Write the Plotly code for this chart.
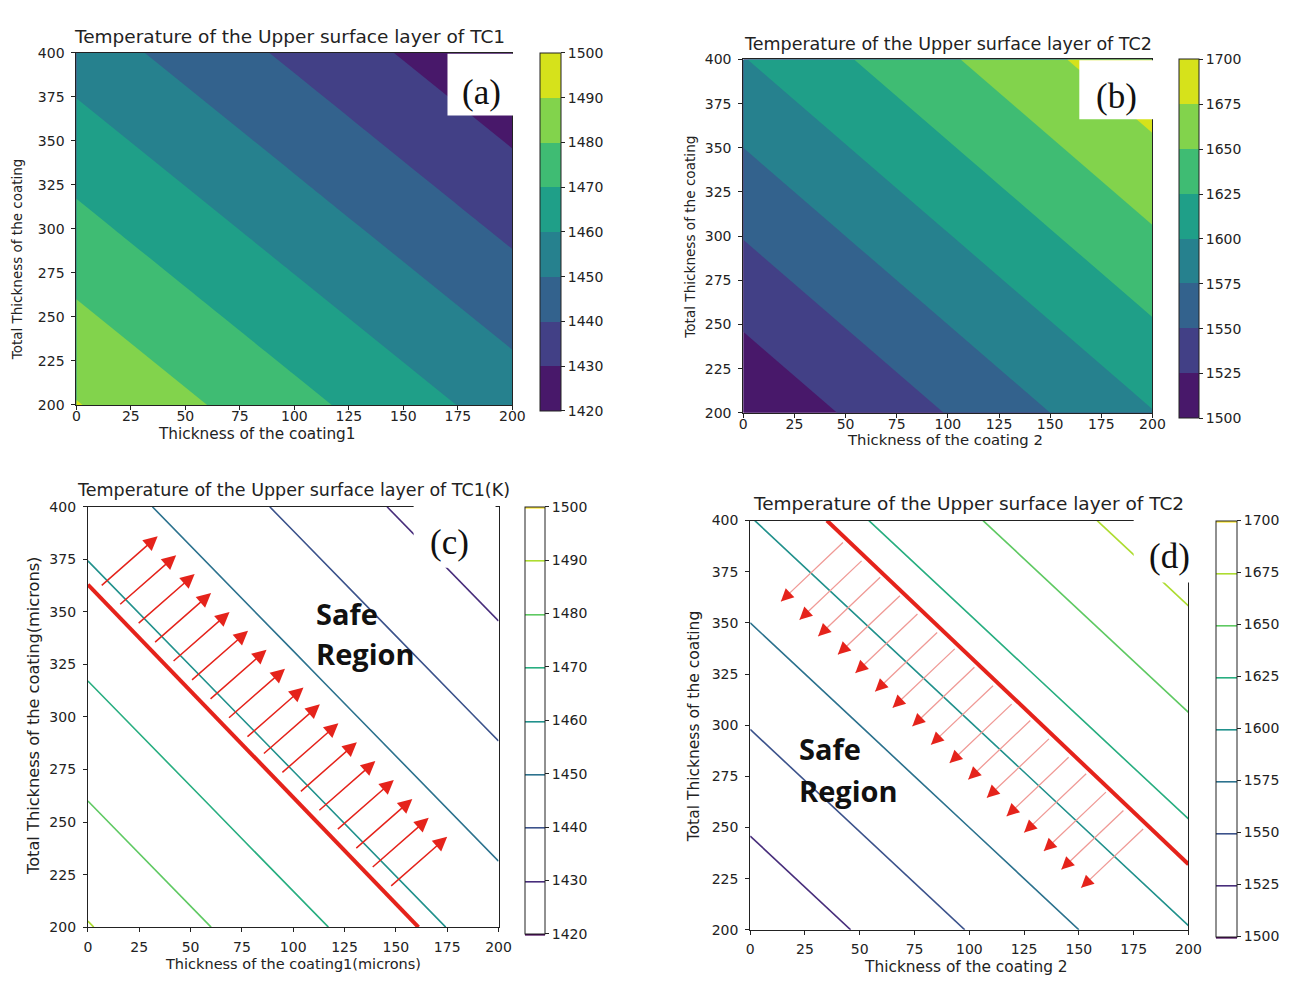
import plotly.graph_objects as go

W, H = 1314, 988

# ---------------- data ----------------
grid_x = [0, 100, 200]
grid_y = [200, 300, 400]
temp_tc1 = [
    [1490.5, 1473.0, 1455.5],
    [1473.0, 1455.5, 1438.0],
    [1455.5, 1438.0, 1420.5],
]
temp_tc2 = [
    [1503.0, 1551.0, 1599.0],
    [1551.0, 1599.0, 1647.0],
    [1599.0, 1647.0, 1695.0],
]
levels_tc1 = [1420, 1430, 1440, 1450, 1460, 1470, 1480, 1490, 1500]
levels_tc2 = [1500, 1525, 1550, 1575, 1600, 1625, 1650, 1675, 1700]
x_ticks = [0, 25, 50, 75, 100, 125, 150, 175, 200]
y_ticks = [200, 225, 250, 275, 300, 325, 350, 375, 400]

safe_line_c_x = [0, 161]
safe_line_c_y = [363, 200]
safe_line_d_x = [35, 200]
safe_line_d_y = [400, 232]

arrow_c_tail_x = [6, 15, 24, 32, 41, 50, 59, 68, 77, 85, 94, 103, 112, 121, 130, 138, 147]
arrow_c_tail_y = [362, 353, 344, 335, 326, 317, 308, 299, 290, 282, 273, 264, 255, 246, 237, 228, 219]
arrow_c_head_x = [34, 43, 52, 60, 69, 78, 87, 96, 105, 113, 122, 131, 140, 149, 158, 166, 175]
arrow_c_head_y = [386, 377, 368, 359, 350, 341, 332, 323, 314, 306, 297, 288, 279, 270, 261, 252, 243]

arrow_d_tail_x = [43, 51.5, 60, 69, 77, 86, 94, 103, 111.5, 120, 128.5, 137, 146, 154, 163, 171, 180]
arrow_d_tail_y = [390, 381, 373, 364, 355, 346, 338, 329, 320, 311, 303, 294, 285, 277, 268, 259, 250]
arrow_d_head_x = [14, 22.5, 31, 40, 48, 57, 65, 74, 82.5, 91, 99.5, 108, 117, 125, 134, 142, 151]
arrow_d_head_y = [360.5, 351.5, 343.5, 334.5, 325.5, 316.5, 308.5, 299.5, 290.5, 281.5, 273.5, 264.5, 255.5, 247.5, 238.5, 229.5, 220.5]

# ---------------- styles ----------------
viridis_levels = ['#440154', '#472d7b', '#3b528b', '#2c728e', '#21918c',
                  '#28ae80', '#5ec962', '#addc30', '#fde725']
viridis_bands = ['#48186a', '#424086', '#33628d', '#26818e', '#1f9f88',
                 '#3fbc73', '#82d34c', '#d6e21b']

n_lv = len(levels_tc1)
# colours used by the filled contours (plotly samples band k at (k+1)/n_levels)
fill_scale = [[0.0, viridis_bands[0]]]
for k, c in enumerate(viridis_bands):
    fill_scale.append([(k + 1) / n_lv, c])
fill_scale.append([1.0, viridis_bands[-1]])
# stepwise scale for the separate colour bars of the filled panels
nb = len(viridis_bands)
step_scale = []
for k, c in enumerate(viridis_bands):
    step_scale.append([k / nb, c])
    step_scale.append([(k + 1) / nb, c])
line_scale = [[i / (len(viridis_levels) - 1), c] for i, c in enumerate(viridis_levels)]

TXT = '#222222'
FONT = 'DejaVu Sans'


def px_x(v):
    return v / W


def px_y(v):
    return 1 - v / H


def cbar(left, right, top, bottom, tickvals):
    return dict(x=px_x(left), xanchor='left', xpad=0,
                y=px_y(top), yanchor='top', ypad=0,
                len=bottom - top, lenmode='pixels',
                thickness=right - left, thicknessmode='pixels',
                outlinewidth=1, outlinecolor=TXT,
                ticks='outside', ticklen=4, tickcolor=TXT, tickprefix='\u00a0',
                tickvals=tickvals, tickfont=dict(family=FONT, size=14, color=TXT))


fig = go.Figure()

fig.add_trace(go.Contour(
    x=grid_x, y=grid_y, z=temp_tc1, xaxis='x', yaxis='y',
    contours=dict(start=levels_tc1[0], end=levels_tc1[-1], size=10, coloring='fill', showlines=False),
    colorscale=fill_scale, line=dict(width=0), hoverinfo='skip', showscale=False))

fig.add_trace(go.Contour(
    x=grid_x, y=grid_y, z=temp_tc2, xaxis='x2', yaxis='y2',
    contours=dict(start=levels_tc2[0], end=levels_tc2[-1], size=25, coloring='fill', showlines=False),
    colorscale=fill_scale, line=dict(width=0), hoverinfo='skip', showscale=False))

# colour bars of the filled panels (banded, 8 levels)
fig.add_trace(go.Scatter(
    x=[None] * len(levels_tc1), y=[None] * len(levels_tc1), mode='markers', xaxis='x', yaxis='y',
    marker=dict(color=levels_tc1, colorscale=step_scale, cmin=levels_tc1[0], cmax=levels_tc1[-1],
                showscale=True, colorbar=cbar(542.7, 563.3, 45.7, 403.5, levels_tc1)),
    showlegend=False, hoverinfo='skip'))
fig.add_trace(go.Scatter(
    x=[None] * len(levels_tc2), y=[None] * len(levels_tc2), mode='markers', xaxis='x2', yaxis='y2',
    marker=dict(color=levels_tc2, colorscale=step_scale, cmin=levels_tc2[0], cmax=levels_tc2[-1],
                showscale=True, colorbar=cbar(1190, 1209.5, 52.3, 411.5, levels_tc2)),
    showlegend=False, hoverinfo='skip'))

fig.add_trace(go.Contour(
    x=grid_x, y=grid_y, z=temp_tc1, xaxis='x3', yaxis='y3',
    contours=dict(start=levels_tc1[0], end=levels_tc1[-1], size=10, coloring='lines'),
    colorscale=line_scale, line=dict(width=1.6), hoverinfo='skip',
    zmin=levels_tc1[0], zmax=levels_tc1[-1],
    colorbar=cbar(527.4, 547.8, 507, 934.3, levels_tc1)))

fig.add_trace(go.Contour(
    x=grid_x, y=grid_y, z=temp_tc2, xaxis='x4', yaxis='y4',
    contours=dict(start=levels_tc2[0], end=levels_tc2[-1], size=25, coloring='lines'),
    colorscale=line_scale, line=dict(width=1.6), hoverinfo='skip',
    zmin=levels_tc2[0], zmax=levels_tc2[-1],
    colorbar=cbar(1228, 1248.7, 521, 937, levels_tc2)))

RED = '#e5231b'
fig.add_trace(go.Scatter(x=safe_line_c_x, y=safe_line_c_y, mode='lines', xaxis='x3', yaxis='y3',
                         line=dict(color=RED, width=4), showlegend=False, hoverinfo='skip'))
fig.add_trace(go.Scatter(x=safe_line_d_x, y=safe_line_d_y, mode='lines', xaxis='x4', yaxis='y4',
                         line=dict(color=RED, width=4), showlegend=False, hoverinfo='skip'))

# ---------------- axes ----------------
domains = {
    '': ((73.3, 515), (45.7, 403.5), -6),
    '2': ((749, 1163.5), (52.3, 411.5), -6),
    '3': ((85, 501), (507, 934.3), 3),
    '4': ((756, 1200), (521, 937), 2),
}
layout_axes = {}
for key, ((xl, xr), (yt, yb), xstand) in domains.items():
    common = dict(showline=True, mirror=True, linecolor=TXT, linewidth=1,
                  ticks='outside', ticklen=4, tickwidth=1, tickcolor=TXT,
                  showgrid=False, zeroline=False,
                  tickfont=dict(family=FONT, size=14, color=TXT))
    layout_axes['xaxis' + key] = dict(common, domain=[px_x(xl), px_x(xr)], range=[0, 200],
                                      tickvals=x_ticks, anchor='y' + key, ticklabelstandoff=xstand)
    layout_axes['yaxis' + key] = dict(common, domain=[px_y(yb), px_y(yt)], range=[200, 400],
                                      tickvals=y_ticks, anchor='x' + key, ticklabelstandoff=4)

# ---------------- texts ----------------
annotations = []


def text(t, cx, cy, size, angle=0, family=FONT, color=TXT, xanchor='center', bold=False):
    annotations.append(dict(text=('<b>%s</b>' % t) if bold else t, x=px_x(cx), y=px_y(cy),
                            xref='paper', yref='paper', showarrow=False, textangle=angle,
                            xanchor=xanchor, yanchor='middle',
                            font=dict(family=family, size=size, color=color)))


text('Temperature of the Upper surface layer of TC1', 289, 29, 18.5)
text('Thickness of the coating1', 256.5, 433, 15.3)
text('Total Thickness of the coating', 14, 255.6, 13.5, angle=-90)

text('Temperature of the Upper surface layer of TC2', 956, 37, 17.5)
text('Thickness of the coating 2', 953, 439, 14.8)
text('Total Thickness of the coating', 695, 233.5, 13.6, angle=-90)

text('Temperature of the Upper surface layer of TC1(K)', 293, 490, 17.5)
text('Thickness of the coating1(microns)', 293, 972, 14.5)
text('Total Thickness of the coating(microns)', 30, 720, 16.2, angle=-90)

text('Temperature of the Upper surface layer of TC2', 977, 504, 18.5)
text('Thickness of the coating 2', 975, 975, 15.4)
text('Total Thickness of the coating', 699.4, 730.7, 15.5, angle=-90)

SERIF = 'Liberation Serif'
text('(a)', 484, 86, 35, family=SERIF, color='#111')
text('(b)', 1127, 90, 35, family=SERIF, color='#111')
text('(c)', 451, 543, 35, family=SERIF, color='#111')
text('(d)', 1181, 558, 35, family=SERIF, color='#111')

SAFE_FONT = 'Open Sans'
text('Safe', 314, 615, 29, family=SAFE_FONT, color='#111', xanchor='left', bold=True)
text('Region', 314, 656, 29, family=SAFE_FONT, color='#111', xanchor='left', bold=True)
text('Safe', 803, 753, 29, family=SAFE_FONT, color='#111', xanchor='left', bold=True)
text('Region', 803, 795, 29, family=SAFE_FONT, color='#111', xanchor='left', bold=True)

# arrows in (c)
for tx, ty, hx, hy in zip(arrow_c_tail_x, arrow_c_tail_y, arrow_c_head_x, arrow_c_head_y):
    annotations.append(dict(text='', x=hx, y=hy, ax=tx, ay=ty, xref='x3', yref='y3',
                            axref='x3', ayref='y3', showarrow=True, arrowhead=2,
                            arrowsize=1.9, arrowwidth=1.5, arrowcolor=RED, standoff=0))
# arrows in (d): pale shafts, red heads
PINK = '#f09a96'
for tx, ty, hx, hy in zip(arrow_d_tail_x, arrow_d_tail_y, arrow_d_head_x, arrow_d_head_y):
    annotations.append(dict(text='', x=hx, y=hy, ax=tx, ay=ty, xref='x4', yref='y4',
                            axref='x4', ayref='y4', showarrow=True, arrowhead=0,
                            arrowwidth=1.3, arrowcolor=PINK, standoff=0))
    annotations.append(dict(text='', x=hx, y=hy, ax=hx + 0.12 * (tx - hx), ay=hy + 0.12 * (ty - hy),
                            xref='x4', yref='y4', axref='x4', ayref='y4', showarrow=True,
                            arrowhead=2, arrowsize=1.8, arrowwidth=1.4, arrowcolor=RED, standoff=0))

# white label boxes
shapes = []
for (l, r, t, b) in [(449.3, 516.5, 46.6, 109.3), (1089.4, 1165, 53.2, 113.2),
                     (415, 498, 505, 569), (1144.5, 1226, 519, 584)]:
    shapes.append(dict(type='rect', xref='paper', yref='paper', x0=px_x(l), x1=px_x(r),
                       y0=px_y(b), y1=px_y(t), fillcolor='white', line=dict(width=0), layer='above'))

fig.update_layout(width=W, height=H, margin=dict(l=0, r=0, t=0, b=0),
                  paper_bgcolor='white', plot_bgcolor='white', showlegend=False,
                  annotations=annotations, shapes=shapes, **layout_axes)

fig.write_html('out.html')
